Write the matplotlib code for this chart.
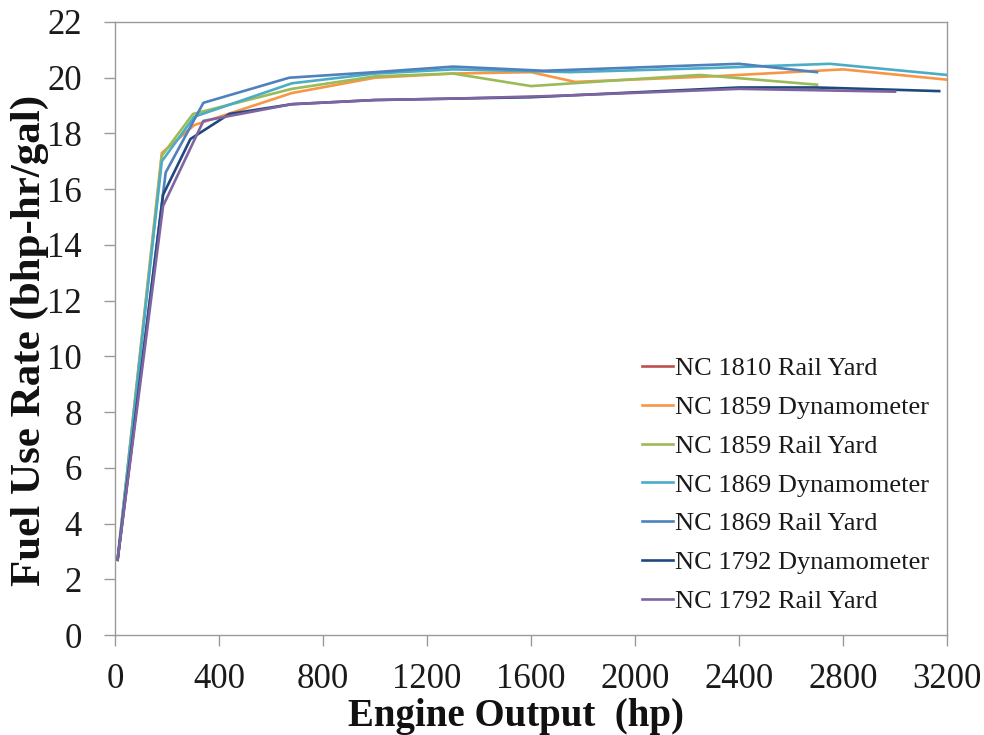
import matplotlib
matplotlib.use("Agg")
import matplotlib.pyplot as plt

# ---- data ----
labels = ["NC 1810 Rail Yard", "NC 1859 Dynamometer", "NC 1859 Rail Yard",
          "NC 1869 Dynamometer", "NC 1869 Rail Yard", "NC 1792 Dynamometer",
          "NC 1792 Rail Yard"]

hp_1810_ry = []
fr_1810_ry = []

hp_1859_dy = [10, 180, 305, 680, 1000, 1300, 1600, 1770, 2300, 2800, 3200]
fr_1859_dy = [2.7, 17.3, 18.3, 19.45, 20.0, 20.15, 20.2, 19.85, 20.05, 20.3, 19.93]

hp_1859_ry = [10, 180, 300, 680, 1000, 1300, 1600, 2000, 2250, 2700]
fr_1859_ry = [2.7, 17.2, 18.7, 19.6, 20.05, 20.15, 19.7, 19.95, 20.1, 19.75]

hp_1869_dy = [10, 180, 305, 680, 1000, 1300, 1750, 2300, 2750, 3200]
fr_1869_dy = [2.7, 17.0, 18.6, 19.8, 20.15, 20.3, 20.2, 20.35, 20.5, 20.1]

hp_1869_ry = [10, 195, 340, 670, 1000, 1300, 1650, 2400, 2700]
fr_1869_ry = [2.7, 16.6, 19.1, 20.0, 20.2, 20.4, 20.25, 20.5, 20.2]

hp_1792_dy = [10, 185, 290, 440, 680, 1000, 1300, 1600, 2400, 2700, 3170]
fr_1792_dy = [2.7, 15.8, 17.8, 18.7, 19.05, 19.2, 19.25, 19.3, 19.65, 19.65, 19.52]

hp_1792_ry = [10, 185, 340, 680, 1000, 1300, 1700, 2400, 3000]
fr_1792_ry = [2.7, 15.4, 18.45, 19.05, 19.2, 19.25, 19.35, 19.6, 19.5]

x_ticks = [0, 400, 800, 1200, 1600, 2000, 2400, 2800, 3200]
y_ticks = [0, 2, 4, 6, 8, 10, 12, 14, 16, 18, 20, 22]

series = [
    (hp_1810_ry, fr_1810_ry),
    (hp_1859_dy, fr_1859_dy),
    (hp_1859_ry, fr_1859_ry),
    (hp_1869_dy, fr_1869_dy),
    (hp_1869_ry, fr_1869_ry),
    (hp_1792_dy, fr_1792_dy),
    (hp_1792_ry, fr_1792_ry),
]
colors = ["#C0504D", "#F79646", "#9BBB59", "#4BACC6", "#4F81BD", "#1F497D", "#8064A2"]

plt.rcParams['font.family'] = ['Liberation Serif', 'DejaVu Serif']

fig = plt.figure(figsize=(9.84, 7.35), dpi=100)
ax = fig.add_axes([115/984, 100/735, (947-115)/984, (635-22)/735])

for (x, y), c, lab in zip(series, colors, labels):
    ax.plot(x, y, color=c, lw=1.9, label=lab)

ax.set_xlim(0, 3200)
ax.set_ylim(0, 22)
ax.set_xticks(x_ticks)
ax.set_yticks(y_ticks)
ax.tick_params(axis='both', direction='out', length=8, width=1, color='#9A9A9A',
               labelsize=25, labelcolor='#1a1a1a')
ax.tick_params(axis='x', pad=12)
ax.tick_params(axis='y', pad=16)
for s in ax.spines.values():
    s.set_color('#9A9A9A')
    s.set_linewidth(1.0)

ax.set_xlabel("Engine Output  (hp)", fontsize=28, fontweight='bold', color='#111111')
ax.set_ylabel("Fuel Use Rate (bhp-hr/gal)", fontsize=31, fontweight='bold', color='#111111')
ax.xaxis.set_label_coords(0.482, -0.102)
ax.yaxis.set_label_coords(-0.079, 0.481)

leg = ax.legend(loc='lower left', bbox_to_anchor=(0.633, 0.036), frameon=False,
                fontsize=19, handlelength=1.2, handletextpad=0.05, labelspacing=0.58,
                borderpad=0, borderaxespad=0)
for t in leg.get_texts():
    t.set_color('#1a1a1a')

fig.savefig("out.png", dpi=100)
